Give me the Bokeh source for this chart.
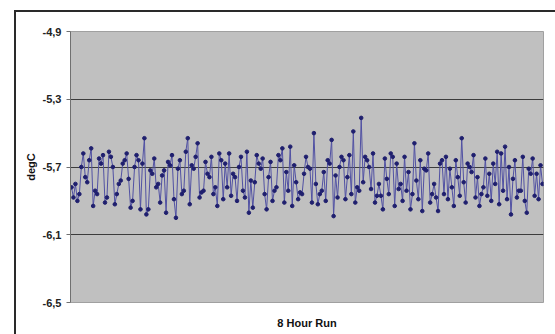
from bokeh.plotting import figure
from bokeh.models import Range1d, FixedTicker, InlineStyleSheet, ColumnDataSource
from bokeh.embed import file_html
from bokeh.resources import INLINE

# ---- data ----
temps = [
    -5.82, -5.88, -5.80, -5.90, -5.86, -5.70, -5.62, -5.76, -5.79, -5.66,
    -5.59, -5.93, -5.84, -5.86, -5.65, -5.68, -5.63, -5.91, -5.88, -5.61,
    -5.64, -5.70, -5.92, -5.86, -5.80, -5.78, -5.68, -5.66, -5.62, -5.77,
    -5.94, -5.90, -5.70, -5.63, -5.66, -5.95, -5.68, -5.53, -5.98, -5.95,
    -5.72, -5.74, -5.65, -5.82, -5.80, -5.91, -5.75, -5.72, -5.97, -5.67,
    -5.69, -5.63, -5.89, -6.00, -5.71, -5.66, -5.86, -5.84, -5.61, -5.53,
    -5.92, -5.69, -5.71, -5.64, -5.56, -5.88, -5.85, -5.84, -5.67, -5.74,
    -5.76, -5.64, -5.86, -5.82, -5.93, -5.62, -5.66, -5.89, -5.68, -5.82,
    -5.62, -5.87, -5.74, -5.76, -5.90, -5.70, -5.64, -5.84, -5.88, -5.61,
    -5.97, -5.78, -5.94, -5.79, -5.63, -5.68, -5.71, -5.65, -5.86, -5.95,
    -5.76, -5.67, -5.90, -5.84, -5.82, -5.63, -5.66, -5.59, -5.91, -5.73,
    -5.84, -5.58, -5.93, -5.69, -5.79, -5.89, -5.85, -5.86, -5.74, -5.64,
    -5.70, -5.71, -5.91, -5.50, -5.80, -5.92, -5.86, -5.84, -5.73, -5.90,
    -5.66, -5.68, -5.54, -5.99, -5.75, -5.88, -5.70, -5.64, -5.66, -5.89,
    -5.76, -5.63, -5.86, -5.49, -5.91, -5.82, -5.84, -5.41, -5.79, -5.64,
    -5.66, -5.70, -5.83, -5.62, -5.91, -5.87, -5.80, -5.87, -5.95, -5.65,
    -5.77, -5.86, -5.62, -5.64, -5.93, -5.68, -5.83, -5.80, -5.90, -5.64,
    -5.84, -5.73, -5.95, -5.86, -5.56, -5.78, -5.89, -5.66, -5.96, -5.71,
    -5.72, -5.62, -5.91, -5.86, -5.80, -5.88, -5.96, -5.68, -5.66, -5.86,
    -5.64, -5.89, -5.71, -5.82, -5.93, -5.66, -5.76, -5.87, -5.53, -5.79,
    -5.91, -5.68, -5.70, -5.73, -5.63, -5.88, -5.76, -5.93, -5.86, -5.82,
    -5.65, -5.87, -5.74, -5.90, -5.68, -5.80, -5.61, -5.92, -5.62, -5.84,
    -5.58, -5.89, -5.70, -5.98, -5.77, -5.66, -5.88, -5.84, -5.84, -5.64,
    -5.90, -5.97, -5.71, -5.74, -5.65, -5.87, -5.74, -5.89, -5.69, -5.80,
]
samples = list(range(len(temps)))

y_ticks = [-6.5, -6.1, -5.7, -5.3, -4.9]
y_tick_labels = ["-6,5", "-6,1", "-5,7", "-5,3", "-4,9"]
grid_ticks = [-6.1, -5.7, -5.3]

x_title = "8 Hour Run"
y_title = "degC"

source = ColumnDataSource(data=dict(x=samples, y=temps))

p = figure(
    width=555, height=334,
    output_backend="svg", toolbar_location=None,
    x_range=Range1d(-0.5, len(temps) - 0.5),
    y_range=Range1d(y_ticks[0], y_ticks[-1]),
    min_border_left=70, min_border_top=31, min_border_right=12, min_border_bottom=32,
)
p.background_fill_color = "#c0c0c0"
p.border_fill_color = None
p.outline_line_color = "#a0a0a0"
p.outline_line_width = 1

p.line("x", "y", source=source, line_color="#5151a3", line_width=1)
p.scatter("x", "y", source=source, marker="circle", size=3.6,
          fill_color="#1f1f6e", line_color="#1f1f6e")

# y axis
yax = p.yaxis[0]
yax.ticker = FixedTicker(ticks=y_ticks)
yax.major_label_overrides = {t: s for t, s in zip(y_ticks, y_tick_labels)}
yax.minor_tick_line_color = None
yax.major_tick_in = 0
yax.major_tick_out = 4
yax.major_tick_line_color = "#707070"
yax.axis_line_color = "#707070"
yax.major_label_text_font = "Liberation Sans"
yax.major_label_text_font_style = "bold"
yax.major_label_text_font_size = "11px"
yax.major_label_text_color = "#222222"
yax.major_label_standoff = 5
yax.axis_label = y_title
yax.axis_label_text_font = "Liberation Sans"
yax.axis_label_text_font_style = "bold"
yax.axis_label_text_font_size = "11px"
yax.axis_label_text_color = "#111111"
yax.axis_label_standoff = 3

# x axis
xax = p.xaxis[0]
xax.ticker = FixedTicker(ticks=[])
xax.minor_tick_line_color = None
xax.major_tick_line_color = None
xax.axis_line_color = None
xax.axis_label = x_title
xax.axis_label_text_font = "Liberation Sans"
xax.axis_label_text_font_style = "bold"
xax.axis_label_text_font_size = "11px"
xax.axis_label_text_color = "#111111"
xax.axis_label_standoff = 14

p.xgrid.grid_line_color = None
p.ygrid.ticker = FixedTicker(ticks=grid_ticks)
p.ygrid.grid_line_color = "#3c3c3c"
p.ygrid.grid_line_width = 1.2

p.stylesheets = [InlineStyleSheet(css="""
:host { position: relative; }
:host::before {
  content: ''; position: absolute; left: 14px; top: 10px; right: 0; bottom: 0;
  border-left: 2px solid #2a2a2a; border-top: 2px solid #2a2a2a;
  pointer-events: none; z-index: 10;
}
""")]

open("out.html", "w").write(file_html(p, INLINE))
